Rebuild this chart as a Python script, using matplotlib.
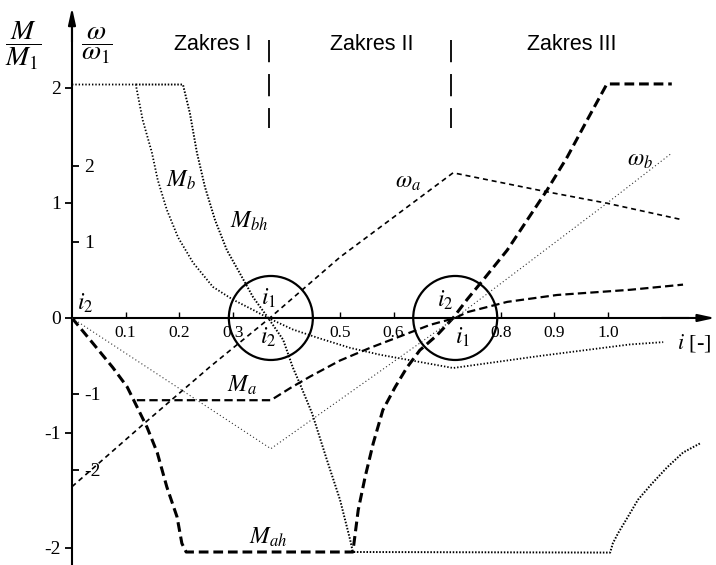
import matplotlib.pyplot as plt
from matplotlib.patches import Ellipse

plt.rcParams['font.family'] = ['Liberation Serif', 'DejaVu Serif']
plt.rcParams['mathtext.fontset'] = 'stix'
plt.rcParams['lines.scale_dashes'] = False

# relative torques M/M1 against transmission ratio i
i_Mb = [0.0, 0.119, 0.132, 0.149, 0.160, 0.177, 0.198, 0.226, 0.263, 0.300, 0.338,
        0.366, 0.412, 0.457, 0.519, 0.575, 0.711, 0.873, 1.041, 1.103]
M_b = [2.03, 2.03, 1.72, 1.44, 1.20, 0.94, 0.70, 0.48, 0.27, 0.16, 0.07,
       0.0, -0.10, -0.17, -0.26, -0.32, -0.435, -0.33, -0.23, -0.21]

i_Mbh = [0.119, 0.207, 0.220, 0.233, 0.248, 0.267, 0.289, 0.313, 0.338, 0.366,
         0.394, 0.412, 0.425, 0.448, 0.476, 0.500, 0.519, 0.524,
         1.004, 1.009, 1.019, 1.037, 1.056, 1.082, 1.110, 1.140, 1.172]
M_bh = [2.03, 2.03, 1.78, 1.44, 1.14, 0.85, 0.59, 0.39, 0.18, 0.0,
        -0.19, -0.43, -0.57, -0.83, -1.24, -1.58, -1.93, -2.035,
        -2.04, -1.96, -1.87, -1.73, -1.58, -1.44, -1.30, -1.17, -1.09]

i_Mah = [0.0, 0.039, 0.076, 0.103, 0.121, 0.140, 0.159, 0.177, 0.196, 0.205, 0.213,
         0.524, 0.534, 0.547, 0.562, 0.580, 0.603, 0.625, 0.649, 0.681, 0.711,
         0.737, 0.767, 0.812, 0.849, 0.886, 0.924, 0.961, 0.998, 1.119]
M_ah = [0.0, -0.22, -0.43, -0.60, -0.77, -0.95, -1.17, -1.47, -1.73, -1.96, -2.035,
        -2.035, -1.67, -1.38, -1.09, -0.80, -0.60, -0.43, -0.28, -0.15, 0.0,
        0.16, 0.33, 0.59, 0.85, 1.11, 1.40, 1.72, 2.035, 2.035]

i_Ma = [0.121, 0.371, 0.407, 0.444, 0.500, 0.556, 0.612, 0.668, 0.715, 0.737,
        0.812, 0.905, 1.041, 1.140]
M_a = [-0.715, -0.715, -0.61, -0.51, -0.37, -0.26, -0.16, -0.06, 0.0, 0.05,
       0.14, 0.20, 0.245, 0.29]

# relative speeds w/w1
i_wa = [0.0, 0.136, 0.257, 0.369, 0.500, 0.711, 0.886, 0.998, 1.140]
w_a = [-2.22, -1.38, -0.645, 0.0, 0.80, 1.91, 1.66, 1.51, 1.29]

i_wb = [0.0, 0.371, 0.715, 0.998, 1.119]
w_b = [0.0, -1.72, 0.0, 1.51, 2.17]

# characteristic ratios i1, i2 and range boundaries
cross_i = [0.371, 0.715]
zone_edges = [0.368, 0.707]
zone_names = ['Zakres I', 'Zakres II', 'Zakres III']
zone_x = [0.262, 0.560, 0.933]

x_ticks = [0.1, 0.2, 0.3, 0.5, 0.6, 0.8, 0.9, 1.0]
x_labels = ['0.1', '0.2', '0.3', '0.5', '0.6', '0.8', '0.9', '1.0']
m_ticks = [-2, -1, 0, 1, 2]
w_ticks = [-2, -1, 1, 2]

M_per_w = 76 / 115  # the speed scale is drawn shorter than the torque scale

fig = plt.figure(figsize=(7.16, 5.65), dpi=100)
ax = fig.add_axes([0, 0, 1, 1])
ax.set_xlim(-0.1343, 1.2015)
ax.set_ylim(-2.148, 2.765)
ax2 = ax.twinx()
ax2.set_ylim(-2.148 / M_per_w, 2.765 / M_per_w)

for s in ['top', 'right']:
    ax.spines[s].set_visible(False)
for s in ['top', 'bottom', 'left']:
    ax2.spines[s].set_visible(False)
ax.spines['left'].set_position(('data', 0))
ax.spines['bottom'].set_position(('data', 0))
ax.spines['left'].set_bounds(-2.2, 2.55)
ax.spines['bottom'].set_bounds(0, 1.15)
ax.spines['left'].set_linewidth(1.5)
ax.spines['bottom'].set_linewidth(1.5)
ax2.spines['right'].set_position(('data', 0))
ax2.spines['right'].set_visible(False)

ax.set_xticks(x_ticks, x_labels)
ax.set_yticks(m_ticks, [str(v) for v in m_ticks])
ax.tick_params(axis='x', direction='in', length=4, width=1, pad=5, labelsize=12.5)
ax.tick_params(axis='y', direction='out', length=5, width=1.3, pad=3, labelsize=14)
ax2.set_yticks(w_ticks, [str(v) for v in w_ticks])
ax2.tick_params(axis='y', direction='out', length=5, width=1.3, pad=4, labelsize=14)

# axis arrows
arrow = dict(arrowstyle='-|>,head_length=1.0,head_width=0.22', lw=1.5, color='k',
             shrinkA=0, shrinkB=0)
ax.annotate('', xy=(0, 2.70), xytext=(0, 2.4), arrowprops=arrow)
ax.annotate('', xy=(1.2, 0), xytext=(1.1, 0), arrowprops=arrow)

# curves
ax.plot(i_Mb, M_b, color='k', lw=1.3, dashes=(1.0, 1.4))
ax.plot(i_Mbh, M_bh, color='k', lw=1.4, dashes=(1.1, 1.2))
ax.plot(i_Mah, M_ah, color='k', lw=2.2, dashes=(7, 3.5))
ax.plot(i_Ma, M_a, color='k', lw=1.6, dashes=(6, 3))
ax2.plot(i_wa, w_a, color='k', lw=1.2, dashes=(3.6, 2.8))
ax2.plot(i_wb, w_b, color='#333333', lw=0.8, dashes=(0.8, 1.8))

# range boundaries
for xe in zone_edges:
    ax.plot([xe, xe], [2.42, 1.65], color='k', lw=1.3, dashes=(16, 8.5))
for name, xz in zip(zone_names, zone_x):
    ax.text(xz, 2.374, name, family='Liberation Sans', fontsize=15.5,
            ha='center', va='center')

# circles around i1 / i2
for xc in cross_i:
    ax.add_patch(Ellipse((xc, 0.0), 84 / 536, 84 / 115, fill=False, lw=1.6, color='k'))

lab = dict(fontsize=17, ha='center', va='center')
ax.text(-0.0914, 2.37, r'$\dfrac{M}{M_1}$', fontsize=20, ha='center', va='center')
ax.text(0.0466, 2.37, r'$\dfrac{\omega}{\omega_1}$', fontsize=20, ha='center', va='center')
ax.text(1.160, -0.217, r'$i$ [-]', fontsize=16, ha='center', va='center')

ax.text(0.203, 1.20, r'$M_b$', **lab)
ax.text(0.330, 0.843, r'$M_{bh}$', **lab)
ax.text(0.627, 1.18, r'$\omega_a$', **lab)
ax.text(1.060, 1.37, r'$\omega_b$', **lab)
ax.text(0.317, -0.59, r'$M_a$', **lab)
ax.text(0.366, -1.91, r'$M_{ah}$', **lab)

ax.text(0.024, 0.13, r'$i_2$', **lab)
ax.text(0.366, 0.174, r'$i_1$', **lab)
ax.text(0.366, -0.165, r'$i_2$', **lab)
ax.text(0.696, 0.157, r'$i_2$', **lab)
ax.text(0.729, -0.165, r'$i_1$', **lab)

fig.savefig('out.png', dpi=100)
